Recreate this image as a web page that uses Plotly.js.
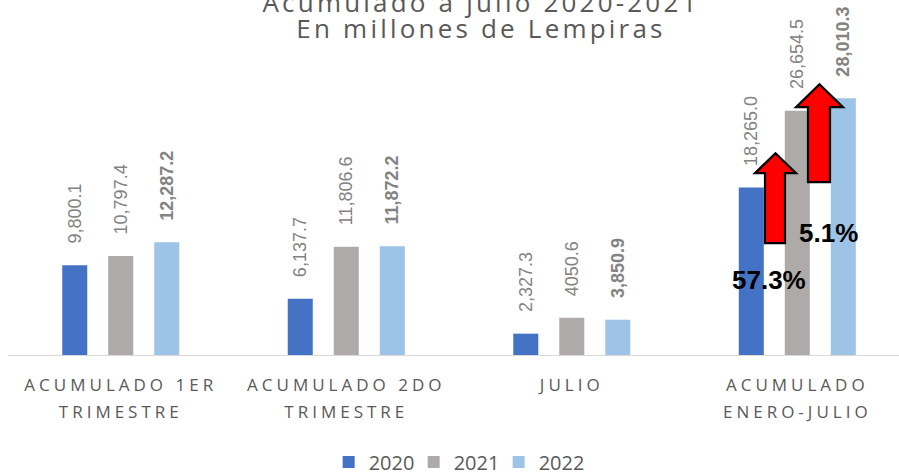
<!DOCTYPE html>
<html><head><meta charset="utf-8">
<script src="https://cdn.plot.ly/plotly-3.0.1.min.js"></script>
<style>
body{margin:0;background:#fff;}
.xtick text{letter-spacing:4px;}
.gtitle{letter-spacing:3.2px;}
</style>
</head><body>
<div id="chart" style="width:899px;height:475px;"></div>
<script>
var categories = ["ACUMULADO 1ER<br>TRIMESTRE", "ACUMULADO 2DO<br>TRIMESTRE", "JULIO", "ACUMULADO<br>ENERO-JULIO"];
var values2020 = [9800.1, 6137.7, 2327.3, 18265.0];
var values2021 = [10797.4, 11806.6, 4050.6, 26654.5];
var values2022 = [12287.2, 11872.2, 3850.9, 28010.3];
var labels2020 = ["9,800.1", "6,137.7", "2,327.3", "18,265.0"];
var labels2021 = ["10,797.4", "11,806.6", "4050.6", "26,654.5"];
var labels2022 = ["12,287.2", "11,872.2", "3,850.9", "28,010.3"];
var seriesNames = ["2020", "2021", "2022"];
var growthLabels = ["57.3%", "5.1%"];

var PAD = "\u00a0\u00a0\u00a0\u2009";
var labelFont = {family: "Liberation Sans, Arial, sans-serif", size: 18, color: "#838383"};
function mk(name, vals, labels, color, bold) {
  return {
    type: "bar", name: name, x: categories, y: vals,
    text: labels.map(function(t){ return PAD + (bold ? "<b>" + t + "</b>" : t); }),
    textposition: "outside", textangle: -90, constraintext: "none", cliponaxis: false,
    textfont: labelFont, marker: {color: color}, hoverinfo: "skip"
  };
}
var data = [
  mk(seriesNames[0], values2020, labels2020, "#4472C4", false),
  mk(seriesNames[1], values2021, labels2021, "#AEAAAA", false),
  mk(seriesNames[2], values2022, labels2022, "#9DC3E6", true)
];

function arrowPath(xl, xr, hl, hr, tip, yb, yh, yt) {
  return "M" + xl + "," + yb + " L" + xr + "," + yb + " L" + xr + "," + yh + " L" + hr + "," + yh +
         " L" + tip + "," + yt + " L" + hl + "," + yh + " L" + xl + "," + yh + " Z";
}
var W = 891, L0 = 8;
function px(p){ return (p - L0) / W; }
var layout = {
  width: 899, height: 475,
  margin: {l: 8, r: 0, t: 80, b: 120, autoexpand: false},
  paper_bgcolor: "#fff", plot_bgcolor: "#fff",
  title: {
    text: "Acumulado a julio 2020-2021<br>En millones de Lempiras",
    font: {family: "Open Sans, sans-serif", size: 26, color: "#595959"},
    x: 481/899, xanchor: "center", y: 0.974, yanchor: "middle", yref: "container"
  },
  barmode: "group", bargap: 0.388, bargroupgap: 0.456,
  xaxis: {
    type: "category", range: [-0.5, 3.451], showline: true, linecolor: "#D9D9D9", linewidth: 1,
    ticks: "", ticklabelstandoff: 15, automargin: false,
    tickfont: {family: "Open Sans, sans-serif", size: 17, color: "#595959"},
    showgrid: false, zeroline: false
  },
  yaxis: {range: [0, 30000], visible: false, showgrid: false, zeroline: false},
  showlegend: true,
  legend: {orientation: "h", x: 0.503, xanchor: "center", y: -0.318, yanchor: "top",
    font: {family: "Open Sans, sans-serif", size: 20, color: "#595959"}, itemwidth: 30,
    entrywidth: 40, entrywidthmode: "pixels", traceorder: "normal"},
  shapes: [
    {type: "path", xref: "paper", yref: "y",
     path: arrowPath(px(765), px(785), px(755), px(796), px(775.5), 12207, 19836, 22016),
     fillcolor: "#FF0000", line: {color: "#000", width: 2.2}},
    {type: "path", xref: "paper", yref: "y",
     path: arrowPath(px(808), px(830), px(796), px(843), px(819.5), 18855, 27030, 29537),
     fillcolor: "#FF0000", line: {color: "#000", width: 2.2}}
  ],
  annotations: [
    {xref: "paper", yref: "y", x: px(769), y: 8175, xanchor: "center", yanchor: "middle",
     text: "<b>" + growthLabels[0] + "</b>", showarrow: false,
     font: {family: "Liberation Sans, Arial, sans-serif", size: 26, color: "#000"}},
    {xref: "paper", yref: "y", x: px(828), y: 13300, xanchor: "center", yanchor: "middle",
     text: "<b>" + growthLabels[1] + "</b>", showarrow: false,
     font: {family: "Liberation Sans, Arial, sans-serif", size: 26, color: "#000"}}
  ]
};
Plotly.newPlot("chart", data, layout, {displayModeBar: false, staticPlot: true}).then(function(gd){
  // widen the line spacing of the two-line category labels
  gd.querySelectorAll(".xtick text tspan.line").forEach(function(t){
    if (t.previousSibling) t.setAttribute("dy", "27px");
  });
  // tighter line spacing of the two-line title
  gd.querySelectorAll(".gtitle tspan.line").forEach(function(t){
    if (t.previousSibling) t.setAttribute("dy", "26px");
  });
});
</script>
</body></html>
